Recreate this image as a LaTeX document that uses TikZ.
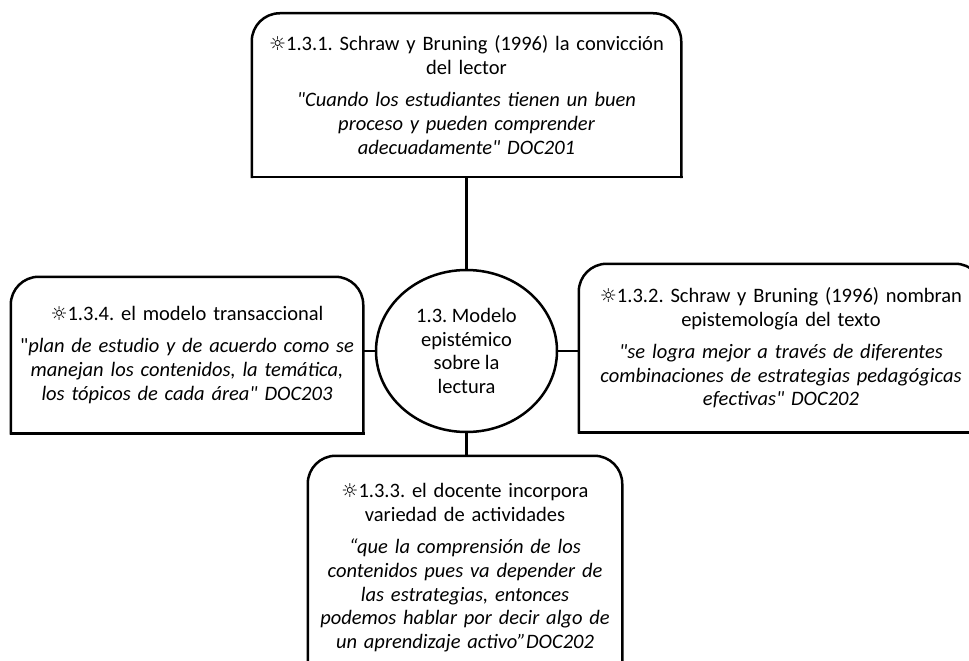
\documentclass[tikz,border=0pt]{standalone}
\usepackage{fontspec}
\setmainfont{Carlito}[Ligatures=TeXOff]
\newfontfamily\symfont{DejaVu Sans}
\usetikzlibrary{shapes.geometric}
\frenchspacing
\newcommand{\sunmark}{{\symfont\fontsize{19}{19}\selectfont ☼}}
\newcommand{\roundtop}[1]{%
  \draw[rounded corners=28pt] (#1.south west) -- (#1.north west) -- (#1.north east) -- (#1.south east);
  \draw (#1.south west) -- (#1.south east);}
\begin{document}
\begin{tikzpicture}[x=1pt,y=-1pt,font=\fontsize{20.5}{23.8}\selectfont,
  line width=2.5pt,line cap=rect,
  box/.style={inner sep=0pt,align=center},
  hub/.style={draw,ellipse,inner sep=0pt,align=center,minimum width=181pt,minimum height=162pt}]
  \useasboundingbox (0,0) rectangle (969,661);
  \clip (0,0) rectangle (969,661);

  \node[hub] (modelo) at (466.5,351) {1.3. Modelo\\ epistémico\\ sobre la\\ lectura};

  \node[box,minimum width=427pt,minimum height=161pt,text width=422pt] (conviccion) at (466.5,95)
    {\sunmark1.3.1. Schraw y Bruning (1996) la convicción\\ del lector\\[8pt]
     \textit{"Cuando los estudiantes tienen un buen\\ proceso y pueden comprender\\ adecuadamente" DOC201}};
  \node[box,minimum width=402pt,minimum height=166pt,text width=400pt] (epistemologia) at (781,348)
    {\sunmark1.3.2. Schraw y Bruning (1996) nombran\\ epistemología del texto\\[8pt]
     \textit{"se logra mejor a través de diferentes\\ combinaciones de estrategias pedagógicas\\ efectivas" DOC202}};
  \node[box,minimum width=312pt,minimum height=222pt,text width=308pt] (docente) at (465,568)
    {\sunmark1.3.3. el docente incorpora\\ variedad de actividades\\[8pt]
     \textit{“que la comprensión de los\\ contenidos pues va depender de\\ las estrategias, entonces\\ podemos hablar por decir algo de\\ un aprendizaje activo”DOC202}};
  \node[box,minimum width=350pt,minimum height=154pt,text width=348pt] (transaccional) at (187,355)
    {\sunmark1.3.4. el modelo transaccional\\[8pt]
     "\textit{plan de estudio y de acuerdo como se\\ manejan los contenidos, la temática,\\ los tópicos de cada área" DOC203}};

  \foreach \n in {conviccion,epistemologia,docente,transaccional}
    {\roundtop{\n}}

  \draw (conviccion.south) -- (modelo.north);
  \draw (modelo.east) -- (modelo.east -| epistemologia.west);
  \draw (modelo.south) -- (modelo.south |- docente.north);
  \draw (modelo.west) -- (modelo.west -| transaccional.east);

\end{tikzpicture}
\end{document}
